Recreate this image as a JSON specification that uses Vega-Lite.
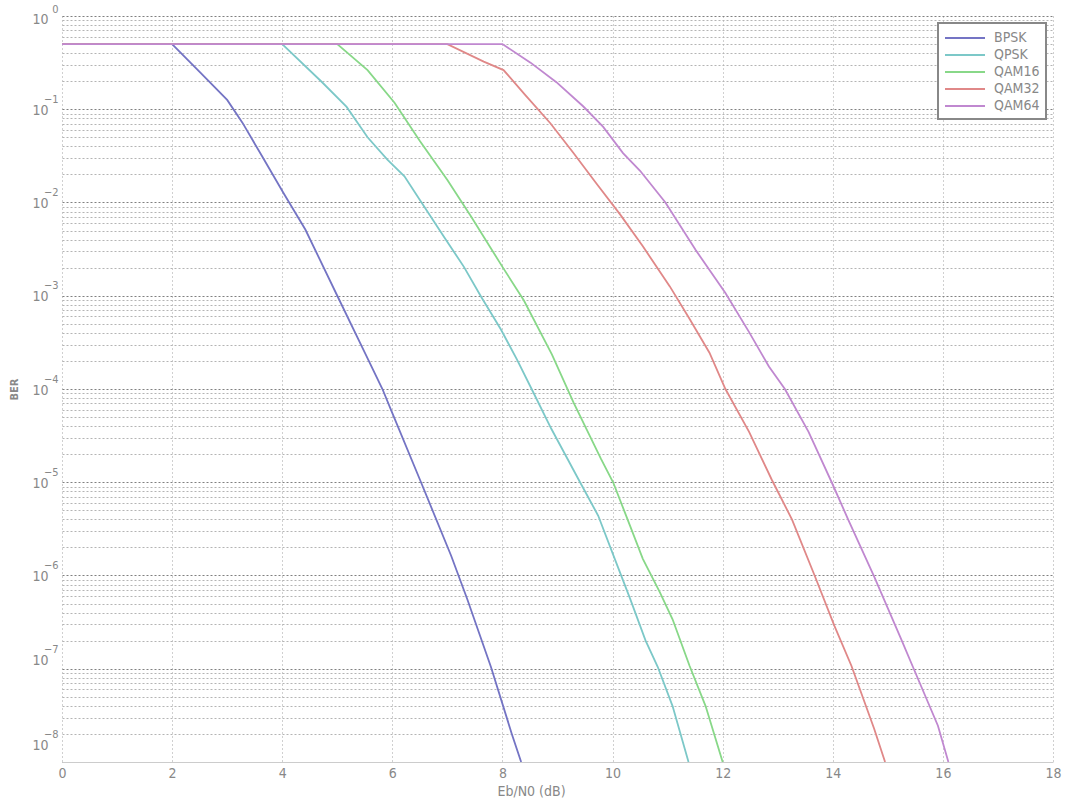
{
  "$schema": "https://vega.github.io/schema/vega-lite/v6.json",
  "width": 991,
  "height": 746,
  "autosize": {"type": "none"},
  "padding": {"left": 62, "top": 16, "right": 16, "bottom": 40},
  "background": "white",
  "config": {
    "view": {"stroke": null},
    "font": "DejaVu Sans Condensed, Liberation Sans Narrow, sans-serif"
  },
  "data": {
    "values": [
      {"x": 0, "ber": 0.5, "s": "BPSK"},
      {"x": 2, "ber": 0.5, "s": "BPSK"},
      {"x": 2.5, "ber": 0.251, "s": "BPSK"},
      {"x": 3.0, "ber": 0.126, "s": "BPSK"},
      {"x": 3.28, "ber": 0.0714, "s": "BPSK"},
      {"x": 3.64, "ber": 0.0309, "s": "BPSK"},
      {"x": 4.02, "ber": 0.01274, "s": "BPSK"},
      {"x": 4.42, "ber": 0.00513, "s": "BPSK"},
      {"x": 5.0, "ber": 0.001, "s": "BPSK"},
      {"x": 5.5, "ber": 0.000245, "s": "BPSK"},
      {"x": 5.82, "ber": 0.0001, "s": "BPSK"},
      {"x": 6.0, "ber": 5.5e-5, "s": "BPSK"},
      {"x": 6.5, "ber": 1.07e-5, "s": "BPSK"},
      {"x": 7.07, "ber": 1.62e-6, "s": "BPSK"},
      {"x": 7.36, "ber": 5.6e-7, "s": "BPSK"},
      {"x": 7.79, "ber": 1.05e-7, "s": "BPSK"},
      {"x": 8.17, "ber": 2.0e-8, "s": "BPSK"},
      {"x": 8.34, "ber": 1e-8, "s": "BPSK"},

      {"x": 0, "ber": 0.5, "s": "QPSK"},
      {"x": 4, "ber": 0.5, "s": "QPSK"},
      {"x": 4.72, "ber": 0.196, "s": "QPSK"},
      {"x": 5.17, "ber": 0.106, "s": "QPSK"},
      {"x": 5.55, "ber": 0.0501, "s": "QPSK"},
      {"x": 5.91, "ber": 0.0288, "s": "QPSK"},
      {"x": 6.22, "ber": 0.0191, "s": "QPSK"},
      {"x": 6.53, "ber": 0.01, "s": "QPSK"},
      {"x": 6.94, "ber": 0.00427, "s": "QPSK"},
      {"x": 7.3, "ber": 0.00204, "s": "QPSK"},
      {"x": 7.61, "ber": 0.00098, "s": "QPSK"},
      {"x": 7.97, "ber": 0.000437, "s": "QPSK"},
      {"x": 8.26, "ber": 0.000209, "s": "QPSK"},
      {"x": 8.53, "ber": 0.0001, "s": "QPSK"},
      {"x": 8.89, "ber": 3.72e-5, "s": "QPSK"},
      {"x": 9.41, "ber": 1e-5, "s": "QPSK"},
      {"x": 9.74, "ber": 4.37e-6, "s": "QPSK"},
      {"x": 10.04, "ber": 1.51e-6, "s": "QPSK"},
      {"x": 10.32, "ber": 5.62e-7, "s": "QPSK"},
      {"x": 10.6, "ber": 2.0e-7, "s": "QPSK"},
      {"x": 10.82, "ber": 1.05e-7, "s": "QPSK"},
      {"x": 11.09, "ber": 3.98e-8, "s": "QPSK"},
      {"x": 11.38, "ber": 1e-8, "s": "QPSK"},

      {"x": 0, "ber": 0.5, "s": "QAM16"},
      {"x": 5, "ber": 0.5, "s": "QAM16"},
      {"x": 5.55, "ber": 0.263, "s": "QAM16"},
      {"x": 6.04, "ber": 0.1175, "s": "QAM16"},
      {"x": 6.5, "ber": 0.0457, "s": "QAM16"},
      {"x": 7.0, "ber": 0.0174, "s": "QAM16"},
      {"x": 7.43, "ber": 0.00708, "s": "QAM16"},
      {"x": 8.0, "ber": 0.00204, "s": "QAM16"},
      {"x": 8.39, "ber": 0.00089, "s": "QAM16"},
      {"x": 8.9, "ber": 0.000234, "s": "QAM16"},
      {"x": 9.29, "ber": 7.2e-5, "s": "QAM16"},
      {"x": 9.79, "ber": 1.78e-5, "s": "QAM16"},
      {"x": 10.01, "ber": 1e-5, "s": "QAM16"},
      {"x": 10.32, "ber": 3.39e-6, "s": "QAM16"},
      {"x": 10.55, "ber": 1.51e-6, "s": "QAM16"},
      {"x": 10.86, "ber": 6.6e-7, "s": "QAM16"},
      {"x": 11.09, "ber": 3.39e-7, "s": "QAM16"},
      {"x": 11.4, "ber": 1.07e-7, "s": "QAM16"},
      {"x": 11.69, "ber": 3.98e-8, "s": "QAM16"},
      {"x": 12.0, "ber": 1e-8, "s": "QAM16"},

      {"x": 0, "ber": 0.5, "s": "QAM32"},
      {"x": 7, "ber": 0.5, "s": "QAM32"},
      {"x": 7.66, "ber": 0.324, "s": "QAM32"},
      {"x": 8.02, "ber": 0.263, "s": "QAM32"},
      {"x": 8.42, "ber": 0.141, "s": "QAM32"},
      {"x": 8.87, "ber": 0.0708, "s": "QAM32"},
      {"x": 9.29, "ber": 0.0339, "s": "QAM32"},
      {"x": 9.7, "ber": 0.0162, "s": "QAM32"},
      {"x": 10.14, "ber": 0.00741, "s": "QAM32"},
      {"x": 10.55, "ber": 0.00339, "s": "QAM32"},
      {"x": 11.04, "ber": 0.00126, "s": "QAM32"},
      {"x": 11.4, "ber": 0.000562, "s": "QAM32"},
      {"x": 11.76, "ber": 0.000245, "s": "QAM32"},
      {"x": 12.05, "ber": 0.0001, "s": "QAM32"},
      {"x": 12.48, "ber": 3.47e-5, "s": "QAM32"},
      {"x": 12.89, "ber": 1.07e-5, "s": "QAM32"},
      {"x": 13.26, "ber": 3.98e-6, "s": "QAM32"},
      {"x": 13.67, "ber": 1e-6, "s": "QAM32"},
      {"x": 14.03, "ber": 2.88e-7, "s": "QAM32"},
      {"x": 14.34, "ber": 1.07e-7, "s": "QAM32"},
      {"x": 14.75, "ber": 2.29e-8, "s": "QAM32"},
      {"x": 14.95, "ber": 1e-8, "s": "QAM32"},

      {"x": 0, "ber": 0.5, "s": "QAM64"},
      {"x": 8, "ber": 0.5, "s": "QAM64"},
      {"x": 8.51, "ber": 0.316, "s": "QAM64"},
      {"x": 8.98, "ber": 0.195, "s": "QAM64"},
      {"x": 9.47, "ber": 0.107, "s": "QAM64"},
      {"x": 9.83, "ber": 0.0646, "s": "QAM64"},
      {"x": 10.19, "ber": 0.0339, "s": "QAM64"},
      {"x": 10.5, "ber": 0.0219, "s": "QAM64"},
      {"x": 10.96, "ber": 0.01, "s": "QAM64"},
      {"x": 11.51, "ber": 0.00309, "s": "QAM64"},
      {"x": 12.05, "ber": 0.00107, "s": "QAM64"},
      {"x": 12.48, "ber": 0.000407, "s": "QAM64"},
      {"x": 12.84, "ber": 0.000174, "s": "QAM64"},
      {"x": 13.13, "ber": 0.0001, "s": "QAM64"},
      {"x": 13.56, "ber": 3.47e-5, "s": "QAM64"},
      {"x": 13.98, "ber": 1e-5, "s": "QAM64"},
      {"x": 14.28, "ber": 3.98e-6, "s": "QAM64"},
      {"x": 14.75, "ber": 9.8e-7, "s": "QAM64"},
      {"x": 15.24, "ber": 2.09e-7, "s": "QAM64"},
      {"x": 15.47, "ber": 1e-7, "s": "QAM64"},
      {"x": 15.91, "ber": 2.45e-8, "s": "QAM64"},
      {"x": 16.1, "ber": 1e-8, "s": "QAM64"}
    ]
  },
  "resolve": {"axis": {"y": "independent"}},
  "layer": [
    {
      "mark": {"type": "line", "strokeWidth": 1.8, "clip": true},
      "encoding": {
        "x": {
          "field": "x",
          "type": "quantitative",
          "scale": {"domain": [0, 18], "nice": false, "zero": false},
          "axis": {
            "values": [0, 2, 4, 6, 8, 10, 12, 14, 16, 18],
            "title": "Eb/N0 (dB)",
            "grid": true,
            "gridColor": "#a0a0a0",
            "gridDash": [1, 3],
            "ticks": false,
            "domainColor": "#cccccc",
            "labelColor": "#888888",
            "labelFontSize": 14,
            "labelFlush": false,
            "labelPadding": 4,
            "titleColor": "#888888",
            "titleFontSize": 14,
            "titleFontWeight": "normal",
            "titleX": 469,
            "titlePadding": 4
          }
        },
        "y": {
          "field": "ber",
          "type": "quantitative",
          "scale": {"type": "log", "domain": [1e-8, 1], "nice": false},
          "axis": {
            "orient": "left",
            "values": [1e-8, 2e-8, 3e-8, 4e-8, 5e-8, 6e-8, 7e-8, 8e-8, 9e-8,
                       1e-7, 2e-7, 3e-7, 4e-7, 5e-7, 6e-7, 7e-7, 8e-7, 9e-7,
                       1e-6, 2e-6, 3e-6, 4e-6, 5e-6, 6e-6, 7e-6, 8e-6, 9e-6,
                       1e-5, 2e-5, 3e-5, 4e-5, 5e-5, 6e-5, 7e-5, 8e-5, 9e-5,
                       1e-4, 2e-4, 3e-4, 4e-4, 5e-4, 6e-4, 7e-4, 8e-4, 9e-4,
                       1e-3, 2e-3, 3e-3, 4e-3, 5e-3, 6e-3, 7e-3, 8e-3, 9e-3,
                       1e-2, 2e-2, 3e-2, 4e-2, 5e-2, 6e-2, 7e-2, 8e-2, 9e-2,
                       1e-1, 2e-1, 3e-1, 4e-1, 5e-1, 6e-1, 7e-1, 8e-1, 9e-1, 1],
            "title": "BER",
            "grid": true,
            "gridColor": {"condition": {"test": "abs(log(datum.value)/LN10 - round(log(datum.value)/LN10)) < 0.001", "value": "#808080"}, "value": "#b4b4b4"},
            "gridDash": [2, 2],
            "ticks": false,
            "domain": false,
            "labelOverlap": false,
            "labelExpr": "abs(log(datum.value)/LN10 - round(log(datum.value)/LN10)) < 0.001 ? '10' : ''",
            "labelColor": "#888888",
            "labelFontSize": 14,
            "labelBaseline": "alphabetic",
            "labelOffset": {"condition": [{"test": "datum.value >= 0.999", "value": 7}, {"test": "datum.value <= 1.001e-8", "value": -13}, {"test": "datum.value <= 1.001e-7", "value": -4}], "value": 5},
            "labelPadding": 14,
            "labelFlush": false,
            "titleColor": "#888888",
            "titleFontSize": 11,
            "titleFontWeight": "bold",
            "titlePadding": 12
          }
        },
        "color": {
          "field": "s",
          "type": "nominal",
          "sort": ["BPSK", "QPSK", "QAM16", "QAM32", "QAM64"],
          "scale": {
            "domain": ["BPSK", "QPSK", "QAM16", "QAM32", "QAM64"],
            "range": ["#7474c4", "#7cc8c8", "#88d888", "#e08888", "#c088d0"]
          },
          "legend": {
            "title": null,
            "orient": "top-right",
            "offset": 7,
            "padding": 6,
            "strokeColor": "#888888",
            "fillColor": "white",
            "symbolType": "M-1,0H4",
            "symbolSize": 256,
            "symbolStrokeWidth": 2,
            "labelOffset": 32,
            "labelColor": "#888888",
            "labelFontSize": 14,
            "rowPadding": 1,
            "encode": {"legend": {"update": {"strokeWidth": {"value": 2}}}}
          }
        }
      }
    },
    {
      "mark": {"type": "line", "opacity": 0, "clip": true},
      "encoding": {
        "x": {"field": "x", "type": "quantitative"},
        "y": {
          "field": "ber",
          "type": "quantitative",
          "axis": {
            "orient": "left",
            "values": [1e-8, 1e-7, 1e-6, 1e-5, 1e-4, 1e-3, 1e-2, 1e-1, 1],
            "title": null,
            "grid": false,
            "ticks": false,
            "domain": false,
            "labelOverlap": false,
            "labelExpr": "round(log(datum.value)/LN10) == 0 ? '0' : '\u2212' + (-round(log(datum.value)/LN10))",
            "labelColor": "#888888",
            "labelFontSize": 11,
            "labelBaseline": "alphabetic",
            "labelOffset": {"condition": [{"test": "datum.value >= 0.999", "value": -4}, {"test": "datum.value <= 1.001e-8", "value": -25}, {"test": "datum.value <= 1.001e-7", "value": -16}], "value": -7},
            "labelPadding": 4,
            "labelFlush": false
          }
        },
        "detail": {"field": "s"}
      }
    }
  ]
}
